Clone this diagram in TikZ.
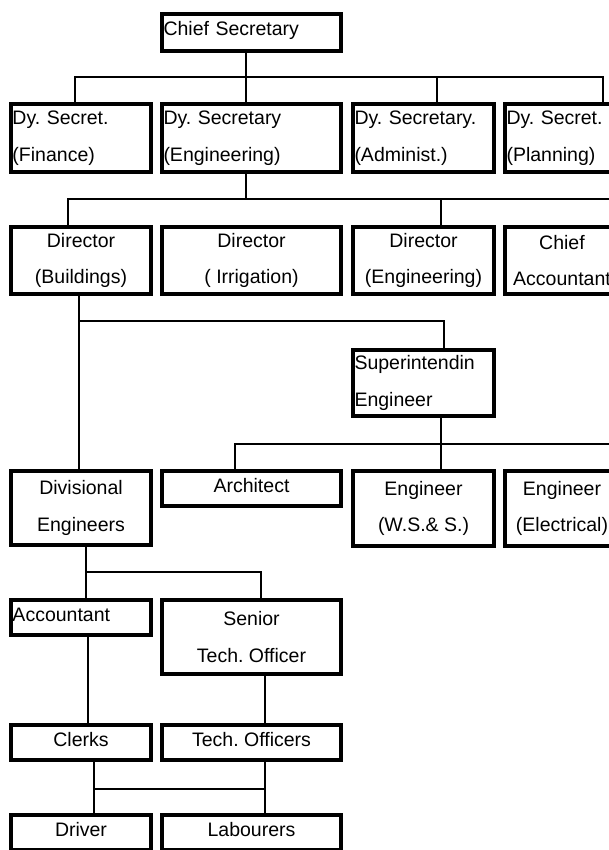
\documentclass[tikz,border=0pt]{standalone}
\usepackage{fontspec}
\setmainfont{Liberation Sans}
\usetikzlibrary{positioning}

\begin{document}
\frenchspacing
\begin{tikzpicture}[
  x=1pt, y=-1pt,
  box/.style={rectangle, draw, line width=4pt, anchor=north west, inner xsep=1.5pt, inner ysep=2pt, font=\fontsize{19.5pt}{36.5pt}\selectfont, align=center},
  one/.style={text height=14pt, text depth=7pt},
  flush/.style={align=left, text width=#1},
  colA/.style={minimum width=140pt},
  colB/.style={minimum width=179pt},
  colC/.style={minimum width=141pt},
  colD/.style={minimum width=114pt},
  link/.style={line width=2pt}
]
\useasboundingbox (0,0) rectangle (608,850);

% Row 1
\node[box, one, colB, flush=176pt, minimum height=37pt] (chief) at (160,12) {Chief Secretary};

% Row 2
\node[box, colA, flush=137pt, minimum height=68pt] (fin) at (9,102) {Dy. Secret.\\(Finance)};
\node[box, colB, flush=176pt, minimum height=68pt, right=7pt of fin.north east, anchor=north west] (engsec) {Dy. Secretary\\(Engineering)};
\node[box, colC, flush=138pt, minimum height=68pt, right=8pt of engsec.north east, anchor=north west] (adm) {Dy. Secretary.\\(Administ.)};
\node[box, colD, flush=111pt, minimum height=68pt, right=7pt of adm.north east, anchor=north west] (plan) {Dy. Secret.\\(Planning)};

% Row 3
\node[box, colA, minimum height=67pt] (bld) at (9,225) {Director\\(Buildings)};
\node[box, colB, minimum height=67pt, right=7pt of bld.north east, anchor=north west] (irr) {Director\\( Irrigation)};
\node[box, colC, minimum height=67pt, right=8pt of irr.north east, anchor=north west] (deng) {Director\\(Engineering)};
\node[box, colD, minimum height=67pt, right=7pt of deng.north east, anchor=north west] (chacc) {Chief\\Accountant};

% Row 4
\node[box, colC, flush=138pt, minimum height=66pt] (sup) at (351,348) {Superintendin\\Engineer};

% Row 5
\node[box, colA, minimum height=74pt] (div) at (9,469) {Divisional\\Engineers};
\node[box, one, colB, minimum height=35pt, right=7pt of div.north east, anchor=north west] (arch) {Architect};
\node[box, colC, minimum height=75pt, right=8pt of arch.north east, anchor=north west] (ews) {Engineer\\(W.S.\& S.)};
\node[box, colD, minimum height=75pt, right=7pt of ews.north east, anchor=north west] (eel) {Engineer\\(Electrical)};

% Row 6
\node[box, one, colA, flush=137pt, minimum height=35pt] (acct) at (9,598) {Accountant};
\node[box, colB, minimum height=74pt, right=7pt of acct.north east, anchor=north west] (sto) {Senior\\Tech. Officer};

% Row 7
\node[box, one, colA, minimum height=35pt] (clerks) at (9,723) {Clerks};
\node[box, one, colB, minimum height=35pt, right=7pt of clerks.north east, anchor=north west] (techo) {Tech. Officers};

% Row 8
\node[box, one, colA, minimum height=35pt] (driver) at (9,813) {Driver};
\node[box, one, colB, minimum height=35pt, right=7pt of driver.north east, anchor=north west] (lab) {Labourers};

% connectors
\draw[link] ([xshift=-5.5pt]chief.south) -- ([xshift=-5.5pt]engsec.north);
\draw[link] ([xshift=-6pt]fin.north) -- ++(0,-25) -| ([xshift=41pt]plan.north);
\draw[link] ([xshift=13.5pt]adm.north) -- ++(0,-25);

\draw[link] ([xshift=-5.5pt]engsec.south) -- ++(0,25);
\draw[link] ([xshift=-13pt]bld.north) -- ++(0,-26) -| ([xshift=60pt]chacc.north);
\draw[link] ([xshift=17.5pt]deng.north) -- ++(0,-26);

\draw[link] ([xshift=-2pt]bld.south) -- ([xshift=-2pt]div.north);
\draw[link] ([xshift=-2pt]bld.south) ++(0,25) -| ([xshift=20.5pt]sup.north);

\draw[link] ([xshift=17.5pt]sup.south) -- ([xshift=17.5pt]ews.north);
\draw[link] ([xshift=-16.5pt]arch.north) -- ++(0,-25) -| ([xshift=60pt]eel.north);

\draw[link] ([xshift=5pt]div.south) -- ([xshift=5pt]acct.north);
\draw[link] ([xshift=5pt]div.south) ++(0,25) -| ([xshift=9.5pt]sto.north);

\draw[link] ([xshift=7pt]acct.south) -- ([xshift=7pt]clerks.north);
\draw[link] ([xshift=13.5pt]sto.south) -- ([xshift=13.5pt]techo.north);

\draw[link] ([xshift=13pt]clerks.south) -- ([xshift=13pt]driver.north);
\draw[link] ([xshift=13.5pt]techo.south) -- ([xshift=13.5pt]lab.north);
\draw[link] ([xshift=13pt]clerks.south) ++(0,27) -| ([xshift=13.5pt]lab.north);
\end{tikzpicture}
\end{document}
